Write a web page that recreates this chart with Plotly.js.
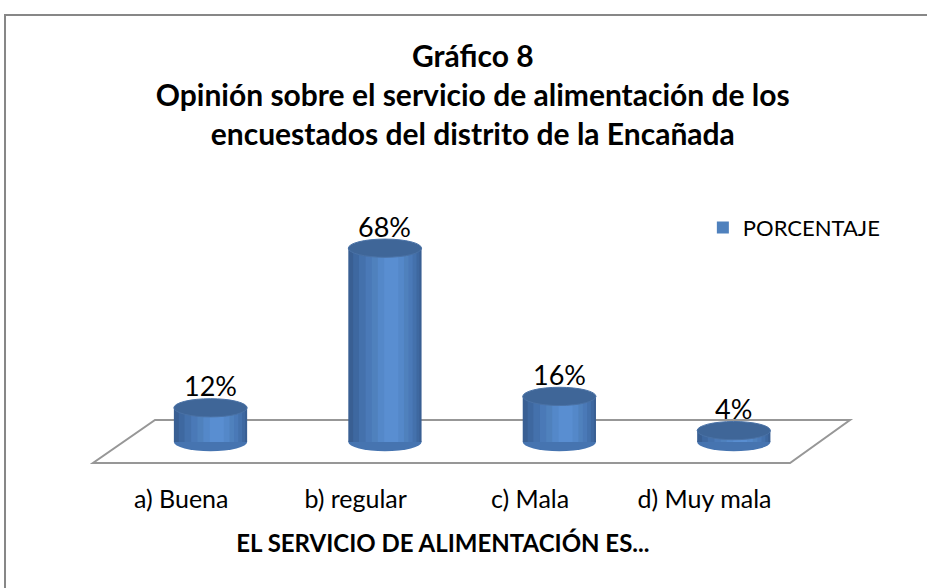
<!DOCTYPE html>
<html>
<head>
<meta charset="utf-8">
<script src="https://cdn.plot.ly/plotly-3.0.1.min.js"></script>
<style>html,body{margin:0;padding:0;background:#fff;}#chart{width:927px;height:588px;}</style>
</head>
<body>
<div id="chart"></div>
<script>
// ---- data ----
const categories = ['a) Buena', 'b) regular', 'c) Mala', 'd) Muy mala'];
const percentages = [12, 68, 16, 4];
const valueLabels = ['12%', '68%', '16%', '4%'];
const seriesName = 'PORCENTAJE';
const chartTitle = 'Gráfico 8<br>Opinión sobre el servicio de alimentación de los<br>encuestados del distrito de la Encañada';
const xTitle = 'EL SERVICIO DE ALIMENTACIÓN ES...';

// ---- styling (cylinder shading layers) ----
const FONT = 'Lato, "Open Sans", sans-serif';
const layers = [
  {w: 0.42, s: 0.000, c: '#395f93'},
  {w: 0.38, s: 0.008, c: '#3e68a0'},
  {w: 0.33, s: 0.016, c: '#4471ac'},
  {w: 0.27, s: 0.024, c: '#4a79b7', legend: false},
  {w: 0.21, s: 0.030, c: '#4f81bd', legend: true},
  {w: 0.15, s: 0.034, c: '#5488c9'},
  {w: 0.08, s: 0.036, c: '#598ed1'}
];
const ELL_H = 3.2;  // ellipse half-height in data units

const traces = [];
// invisible trace to carry the category tick axis (x)
traces.push({
  type: 'scatter', x: categories, y: percentages, xaxis: 'x', yaxis: 'y',
  mode: 'markers', marker: {opacity: 0}, showlegend: false, hoverinfo: 'skip'
});
layers.forEach(function (L) {
  traces.push({
    type: 'bar', x: categories, y: percentages, xaxis: 'x2', yaxis: 'y',
    name: seriesName, width: L.w, offset: -L.w / 2 + L.s,
    marker: {color: L.c, line: {width: 0}},
    showlegend: !!L.legend, hoverinfo: 'skip'
  });
});

const shapes = [];
// chart border (outer frame)
shapes.push({type: 'rect', xref: 'paper', yref: 'paper', x0: -0.1224, x1: 1.3, y0: -0.6, y1: 1.685,
  line: {color: '#878787', width: 2}, fillcolor: 'rgba(0,0,0,0)', layer: 'below'});
// 3D floor
shapes.push({type: 'path', xref: 'paper', yref: 'paper',
  path: 'M -0.0014 0.0259 L 0.9574 0.0259 L 1.0399 0.1852 L 0.0839 0.1852 Z',
  line: {color: '#979797', width: 2}, fillcolor: 'rgba(0,0,0,0)', layer: 'below'});
const half = layers[0].w / 2;
categories.forEach(function (cat, i) {
  // bottom ellipse
  shapes.push({type: 'circle', xref: 'x2', yref: 'y', x0: i - half, x1: i + half,
    y0: -ELL_H, y1: ELL_H, fillcolor: '#4674b0', line: {width: 0}, layer: 'below'});
  // top ellipse
  shapes.push({type: 'circle', xref: 'x2', yref: 'y', x0: i - half, x1: i + half,
    y0: percentages[i] - ELL_H, y1: percentages[i] + ELL_H,
    fillcolor: '#3f6698', line: {color: '#4a72a6', width: 1}, layer: 'above'});
});

const annotations = categories.map(function (cat, i) {
  return {xref: 'x2', yref: 'y', x: cat, y: percentages[i], text: valueLabels[i],
    showarrow: false, yanchor: 'middle', yshift: 22,
    font: {family: FONT, size: 27, color: '#000'}};
});

const layout = {
  width: 927, height: 588,
  paper_bgcolor: '#ffffff', plot_bgcolor: 'rgba(0,0,0,0)',
  margin: {l: 94, r: 106, t: 200, b: 118, autoexpand: false},
  font: {family: FONT, color: '#000'},
  title: {text: chartTitle, x: 0.51, xref: 'container', xanchor: 'center',
    y: 0.886, yref: 'container', yanchor: 'top',
    font: {family: FONT, size: 30, color: '#000', weight: 'bold'}},
  barmode: 'overlay',
  xaxis: {domain: [0, 0.9597], type: 'category', categoryarray: categories, range: [-0.5, 3.5],
    showgrid: false, zeroline: false, showline: false,
    ticks: 'outside', ticklen: 7, tickcolor: 'rgba(0,0,0,0)',
    tickfont: {family: FONT, size: 25, color: '#000'},
    title: {text: xTitle, standoff: 23, font: {family: FONT, size: 24, color: '#000', weight: 'bold'}},
    fixedrange: true},
  xaxis2: {domain: [0.0403, 1], anchor: 'y', type: 'category', categoryarray: categories,
    range: [-0.5, 3.5], visible: false, fixedrange: true},
  yaxis: {range: [-9.82, 84.9], visible: false, fixedrange: true},
  legend: {x: 0.8375, y: 0.975, xanchor: 'left', yanchor: 'top', bgcolor: 'rgba(0,0,0,0)',
    font: {family: FONT, size: 22, color: '#000'}},
  shapes: shapes,
  annotations: annotations,
  hovermode: false
};

Plotly.newPlot('chart', traces, layout, {displayModeBar: false, staticPlot: true});
</script>
</body>
</html>
